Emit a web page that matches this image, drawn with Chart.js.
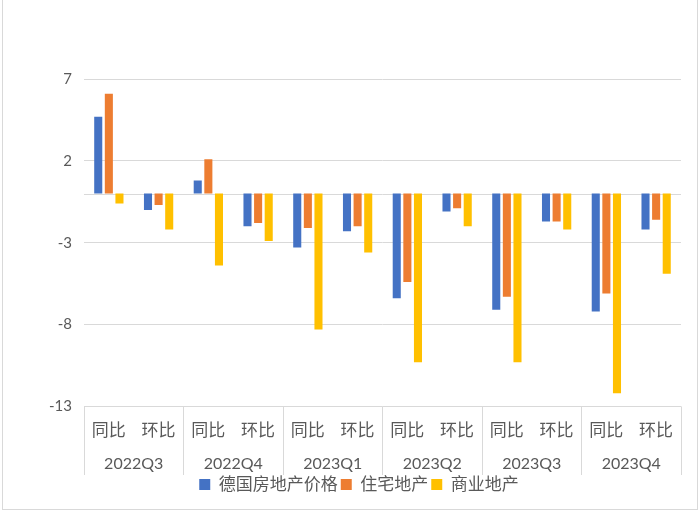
<!DOCTYPE html>
<html>
<head>
<meta charset="utf-8">
<script src="https://cdn.jsdelivr.net/npm/chart.js@4.4.1/dist/chart.umd.min.js"></script>
<style>
  body { margin: 0; background: #fff; }
  #wrap { position: absolute; left: 2px; top: 0; width: 694px; height: 509px; border: 1px solid #d9d9d9; border-top: none; }
</style>
</head>
<body>
<div id="wrap"><canvas id="c"></canvas></div>
<script>
const categories = ['同比', '环比', '同比', '环比', '同比', '环比', '同比', '环比', '同比', '环比', '同比', '环比'];
const quarters = ['2022Q3', '2022Q4', '2023Q1', '2023Q2', '2023Q3', '2023Q4'];
const priceAll = [4.7, -1.0, 0.8, -2.0, -3.3, -2.3, -6.4, -1.1, -7.1, -1.7, -7.2, -2.2];
const residential = [6.1, -0.7, 2.1, -1.8, -2.1, -2.0, -5.4, -0.9, -6.3, -1.7, -6.1, -1.6];
const commercial = [-0.6, -2.2, -4.4, -2.9, -8.3, -3.6, -10.3, -2.0, -10.3, -2.2, -12.2, -4.9];

Chart.defaults.font.family = "Lato, 'Noto Sans CJK SC', sans-serif";
Chart.defaults.color = '#595959';

// 零轴线和季度分隔线
const axisDeco = {
    id: 'axisDeco',
    beforeDatasetsDraw(chart) {
        const { ctx, chartArea, scales } = chart;
        const y0 = scales.y.getPixelForValue(0);
        ctx.save();
        ctx.strokeStyle = '#d9d9d9';
        ctx.lineWidth = 1;
        ctx.beginPath();
        ctx.moveTo(chartArea.left, Math.round(y0) + 0.5);
        ctx.lineTo(chartArea.right, Math.round(y0) + 0.5);
        ctx.stroke();
        ctx.restore();
    },
    afterDraw(chart) {
        const { ctx, chartArea, scales } = chart;
        const x = scales.x;
        const half = (x.getPixelForValue(1) - x.getPixelForValue(0)) / 2;
        ctx.save();
        ctx.strokeStyle = '#d9d9d9';
        ctx.lineWidth = 1;
        ctx.beginPath();
        for (let i = 0; i <= quarters.length; i++) {
            const px = i < quarters.length ? x.getPixelForValue(i * 2) - half : x.getPixelForValue(categories.length - 1) + half;
            ctx.moveTo(Math.round(px) + 0.5, chartArea.bottom);
            ctx.lineTo(Math.round(px) + 0.5, scales.x2.bottom + 2);
        }
        ctx.stroke();
        ctx.restore();
    }
};

new Chart(document.getElementById('c'), {
    type: 'bar',
    data: {
        labels: categories,
        datasets: [
            { label: '德国房地产价格', data: priceAll, backgroundColor: '#4472C4' },
            { label: '住宅地产', data: residential, backgroundColor: '#ED7D31' },
            { label: '商业地产', data: commercial, backgroundColor: '#FFC000' }
        ]
    },
    options: {
        responsive: true,
        maintainAspectRatio: false,
        animation: false,
        datasets: { bar: { categoryPercentage: 0.64, barPercentage: 0.76 } },
        layout: { padding: { top: 79, left: 34, right: 16, bottom: 6 } },
        plugins: {
            tooltip: { enabled: false },
            legend: {
                position: 'bottom',
                labels: { boxWidth: 11, boxHeight: 11, padding: 3, font: { size: 17, lineHeight: 0.8 }, color: '#595959' }
            }
        },
        scales: {
            x: {
                offset: true,
                weight: 1,
                grid: { display: false, drawTicks: false },
                border: { display: false },
                ticks: { font: { size: 17 }, padding: 13.5, maxRotation: 0, autoSkip: false }
            },
            x2: {
                type: 'category',
                labels: quarters,
                position: 'bottom',
                offset: true,
                weight: 2,
                grid: { display: false, drawTicks: false },
                border: { display: false },
                ticks: { font: { size: 16 }, padding: 0, maxRotation: 0, autoSkip: false }
            },
            y: {
                min: -13,
                max: 7,
                grid: { color: '#d9d9d9', drawTicks: false },
                border: { display: false },
                ticks: { stepSize: 5, font: { size: 15 }, padding: 12 }
            }
        }
    },
    plugins: [axisDeco]
});
</script>
</body>
</html>
